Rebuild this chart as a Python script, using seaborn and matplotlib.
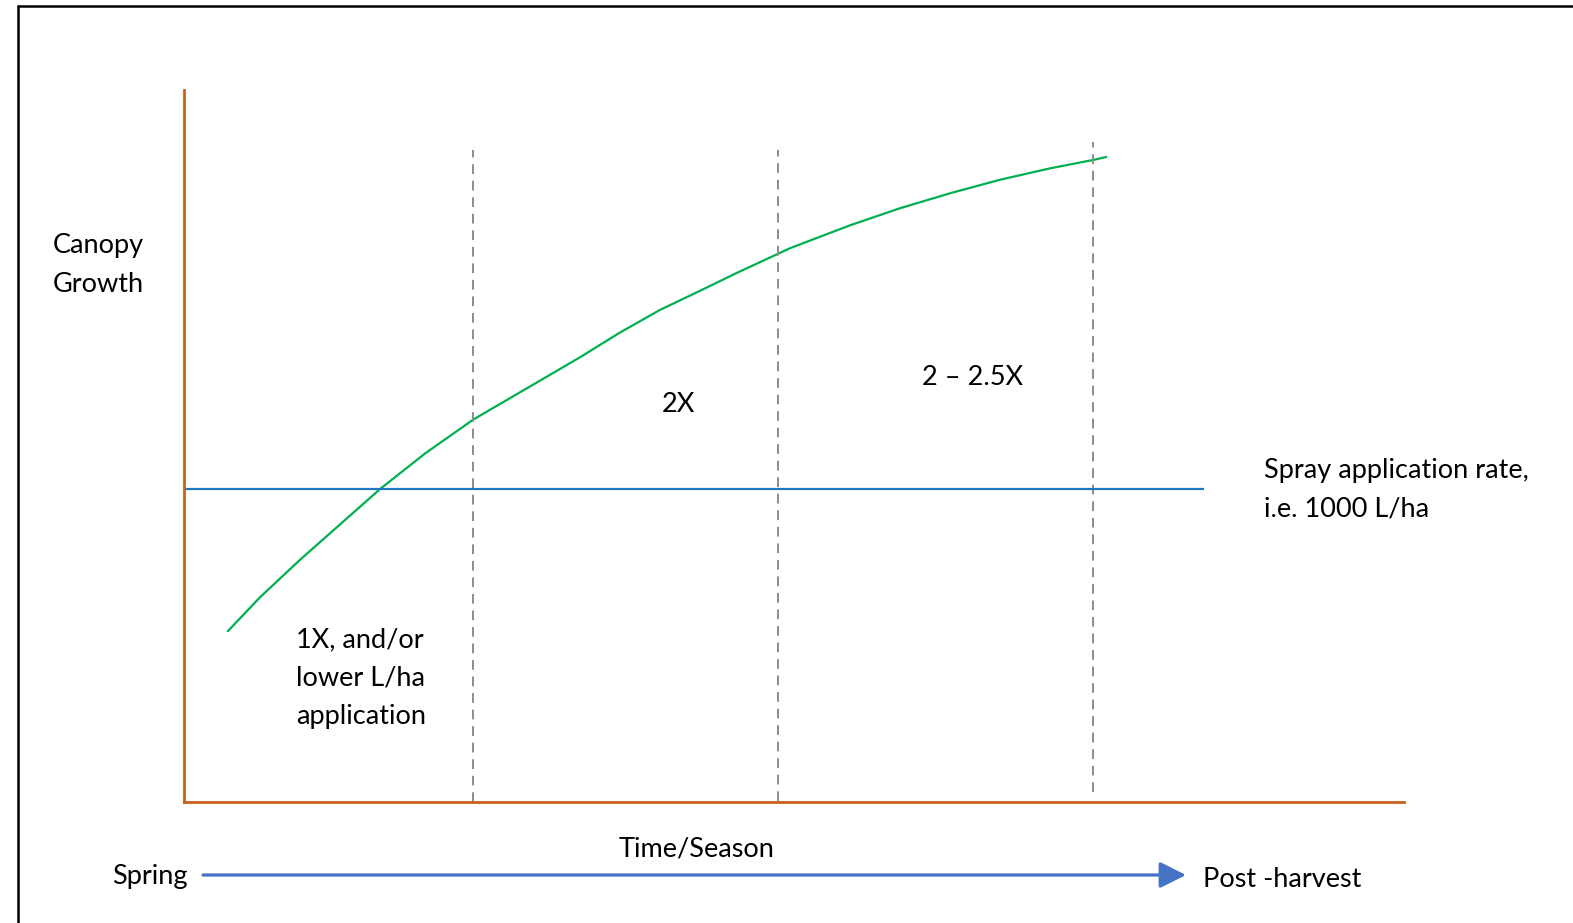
import numpy as np
import pandas as pd
import matplotlib
matplotlib.use('Agg')
import matplotlib.pyplot as plt
from matplotlib.lines import Line2D
import seaborn as sns

# canopy growth curve (time 0-100, growth 0-100)
time = [3.6, 6.2, 9.5, 12.8, 16.1, 19.8, 23.7, 28.0, 32.5, 35.7, 39.0, 42.3,
        45.3, 49.7, 54.6, 58.7, 62.8, 66.9, 71.0, 74.6, 75.6]
growth = [24.0, 28.7, 34.0, 39.0, 44.0, 49.0, 53.7, 58.0, 62.5, 65.9, 69.1, 71.8,
          74.3, 77.8, 81.0, 83.4, 85.5, 87.4, 89.0, 90.2, 90.6]

# stage boundaries (dashed) and their vertical extents
stage_x = [23.7, 48.7, 74.5]
stage_top = [91.6, 91.6, 92.7]
stage_bottom = [0.0, 0.2, 1.4]

# spray application rate reference
spray_rate = 44.0
spray_end = 83.6

stage_labels = ['1X, and/or\nlower L/ha\napplication', '2X', '2 \u2013 2.5X']

W, H = 1573, 923
sns.set_style('white')
plt.rcParams['font.family'] = ['Lato', 'DejaVu Sans']
fig = plt.figure(figsize=(W / 100, H / 100), dpi=100)

ax = fig.add_axes([184 / W, (H - 802) / H, 1220 / W, 712 / H])
ax.set_xlim(0, 100)
ax.set_ylim(0, 100)
ax.set_facecolor('none')

df = pd.DataFrame({'time': time, 'growth': growth})
sns.lineplot(data=df, x='time', y='growth', ax=ax, color='#00B050', lw=1.6,
             sort=False, clip_on=False)
ax.vlines(stage_x, stage_bottom, stage_top, colors='#8c8c8c', linestyles=(0, (5, 3.5)),
          lw=1.4, clip_on=False)
ax.hlines(spray_rate, 0, spray_end, colors='#1f77c4', lw=1.6, clip_on=False)

for s in ['top', 'right']:
    ax.spines[s].set_visible(False)
for s in ['left', 'bottom']:
    ax.spines[s].set_color('#C8601C')
    ax.spines[s].set_linewidth(2)
ax.set_xticks([])
ax.set_yticks([])
ax.set_xlabel('')
ax.set_ylabel('')

fs = 19.5


def put(x, base, s, ha='left'):
    # place text by pixel position (x, baseline from top)
    lines = s.split('\n')
    for i, line in enumerate(lines):
        fig.text(x / W, (H - base - i * 38.5) / H, line, ha=ha, va='baseline',
                 fontsize=fs, color='black')


put(53, 253, 'Canopy\nGrowth')
put(296, 647, stage_labels[0])
put(678, 412, stage_labels[1], ha='center')
put(973, 385, stage_labels[2], ha='center')
put(1264, 478, 'Spray application rate,\ni.e. 1000 L/ha')
put(697, 857, 'Time/Season', ha='center')
put(112, 884, 'Spring')
put(1203, 887, 'Post -harvest')

# season arrow
ax.annotate('', xy=(1186, H - 875), xytext=(203, H - 875), xycoords='figure pixels',
            textcoords='figure pixels',
            arrowprops=dict(arrowstyle='-|>,head_length=0.8,head_width=0.4',
                            lw=2.3, color='#4472C4', mutation_scale=20,
                            shrinkA=0, shrinkB=0))

# frame lines (left and top)
fig.add_artist(Line2D([17.5 / W, 17.5 / W], [0, (H - 5.5) / H], color='black', lw=1.8))
fig.add_artist(Line2D([17.5 / W, 1], [(H - 5.5) / H, (H - 5.5) / H], color='black', lw=1.8))

fig.savefig('out.png', dpi=100)
